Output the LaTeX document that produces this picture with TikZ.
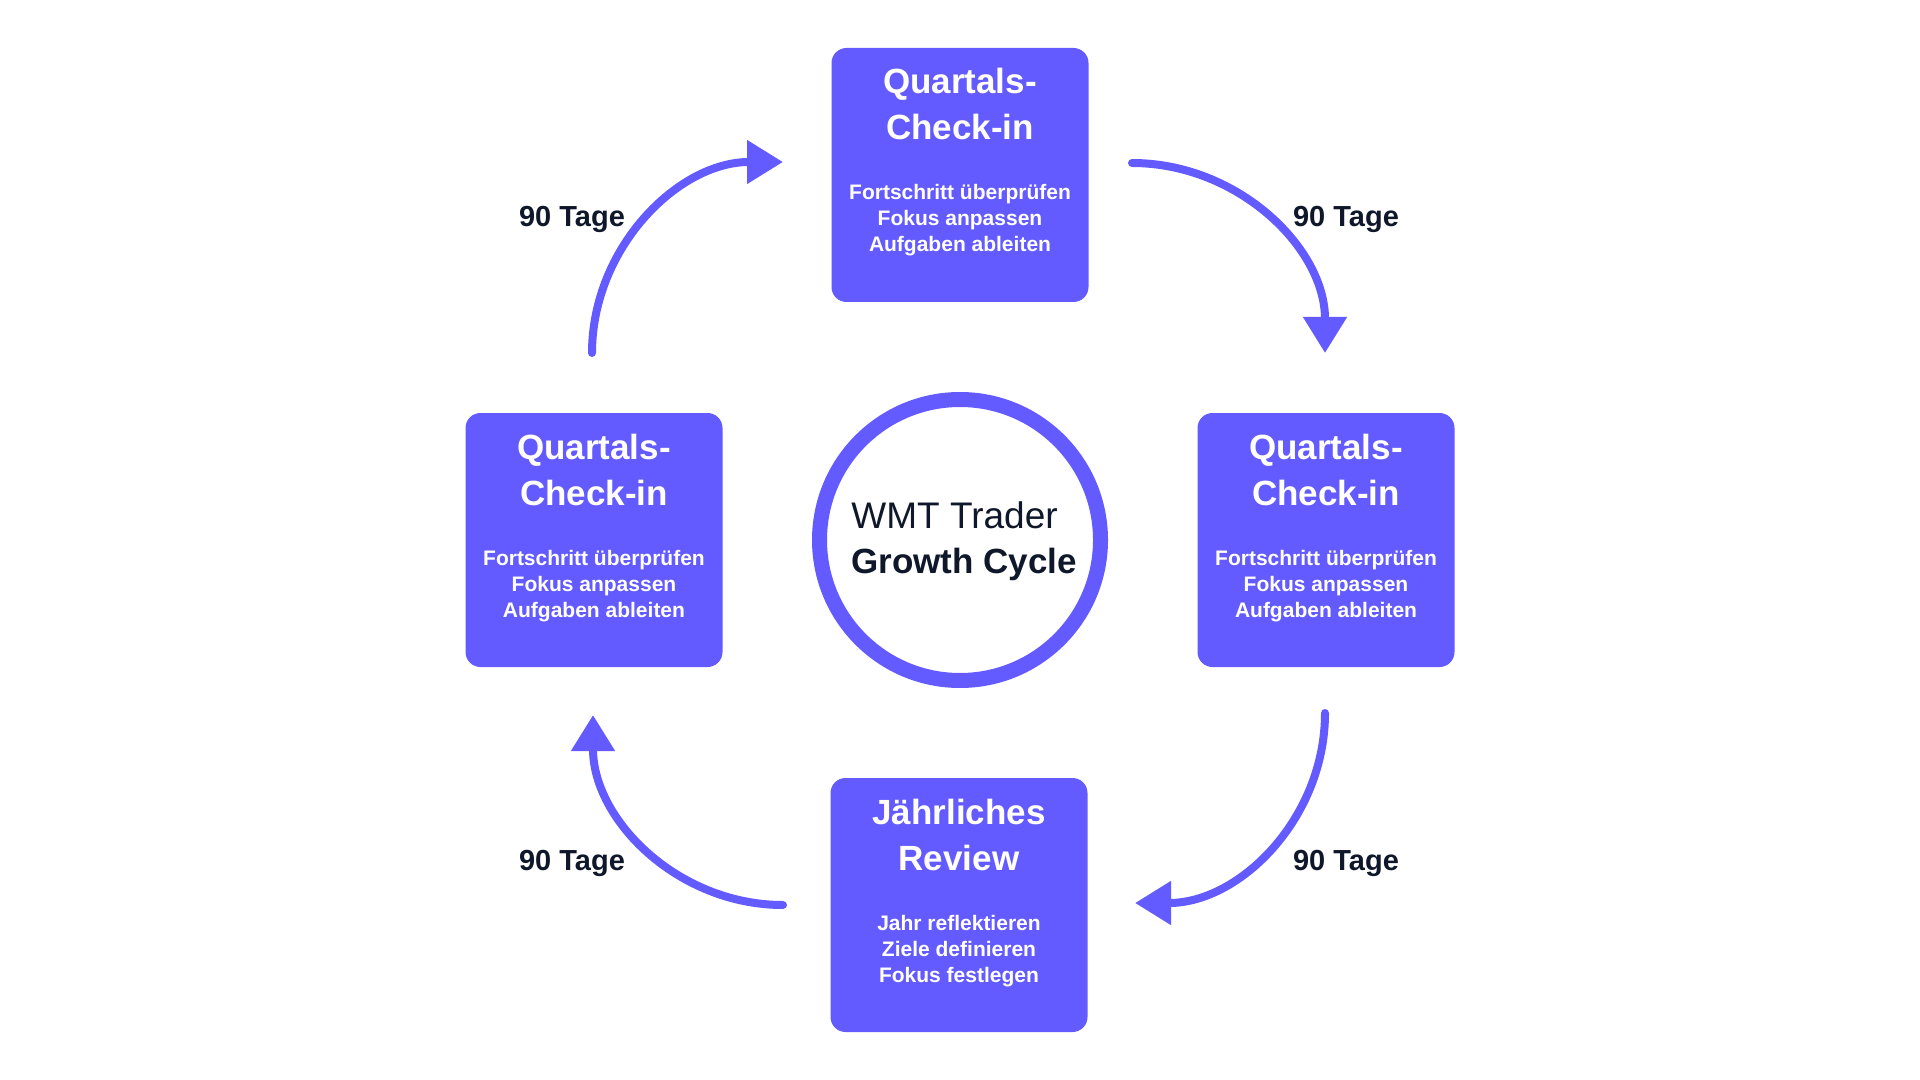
\documentclass[tikz,border=0pt]{standalone}
\usepackage{fontspec}
\setmainfont{Liberation Sans}
\usetikzlibrary{arrows.meta}
\definecolor{blurple}{HTML}{635BFF}
\definecolor{ink}{HTML}{0F172A}
\begin{document}
\begin{tikzpicture}[x=0.5pt,y=-0.5pt,
  card/.style={fill=blurple, rounded corners=7.5pt, minimum width=128.5pt, minimum height=127pt, inner sep=0pt},
  ttl/.style={text=white, font=\fontsize{17.5}{20}\selectfont\bfseries, anchor=base, inner sep=0pt},
  bodytxt/.style={text=white, font=\fontsize{10.5}{12}\selectfont\bfseries, anchor=base, inner sep=0pt},
  cyc/.style={draw=blurple, line width=4pt, line cap=round, -{Triangle[length=18pt,width=21pt]}},
  lbl/.style={text=ink, font=\fontsize{14.5}{17}\selectfont\bfseries, anchor=base, inner sep=0pt},
  hubtxt/.style={text=ink, anchor=base west, inner sep=0pt},
]
\useasboundingbox (0,0) rectangle (1920,1080);
\fill[white] (0,0) rectangle (1920,1080);

% cards
\node[card] (top) at (960,175) {};
\node[card] (right) at (1326,540) {};
\node[card] (bottom) at (959,905) {};
\node[card] (left) at (594,540) {};

\foreach \c in {top,right,left}{
  \node[ttl] (\c t1) at ([yshift=40.5pt]\c.center) {Quartals-};
  \node[ttl] (\c t2) at ([yshift=17.5pt]\c.center) {Check-in};
  \node[bodytxt] (\c b1) at ([yshift=-12.5pt]\c.center) {Fortschritt überprüfen};
  \node[bodytxt] (\c b2) at ([yshift=-25.5pt]\c.center) {Fokus anpassen};
  \node[bodytxt] (\c b3) at ([yshift=-38.5pt]\c.center) {Aufgaben ableiten};
}
\node[ttl] (bottomt1) at ([yshift=40.5pt]bottom.center) {Jährliches};
\node[ttl] (bottomt2) at ([yshift=17.5pt]bottom.center) {Review};
\node[bodytxt] (bottomb1) at ([yshift=-12.5pt]bottom.center) {Jahr reflektieren};
\node[bodytxt] (bottomb2) at ([yshift=-25.5pt]bottom.center) {Ziele definieren};
\node[bodytxt] (bottomb3) at ([yshift=-38.5pt]bottom.center) {Fokus festlegen};

% hub
\node[circle, draw=blurple, line width=7.5pt, fill=white, minimum size=140.5pt, inner sep=0pt] (hub) at (960,540) {};
\node[hubtxt, font=\fontsize{18.5}{21}\selectfont] (hub1) at ([xshift=-54.5pt,yshift=6pt]hub.center) {WMT Trader};
\node[hubtxt, font=\fontsize{17.5}{21}\selectfont\bfseries] (hub2) at ([xshift=-54.5pt,yshift=-16.5pt]hub.center) {Growth Cycle};

% arrows
\coordinate (a1s) at (592,353); \coordinate (a1e) at (783,162);
\coordinate (a2s) at (1132,163); \coordinate (a2e) at (1325,353);
\coordinate (a3s) at (1325,713); \coordinate (a3e) at (1135,903);
\coordinate (a4s) at (783,905); \coordinate (a4e) at (593,715);
\draw[cyc] (a1s) .. controls +(0,-105) and +(-105,0) .. (a1e);
\draw[cyc] (a2s) .. controls +(106,0) and +(0,-105) .. (a2e);
\draw[cyc] (a3s) .. controls +(0,105) and +(105,0) .. (a3e);
\draw[cyc] (a4s) .. controls +(-105,0) and +(0,105) .. (a4e);

% labels
\node[lbl] (l1) at (572,227) {90 Tage};
\node[lbl] (l2) at (1346,227) {90 Tage};
\node[lbl] (l3) at (1346,870) {90 Tage};
\node[lbl] (l4) at (572,870) {90 Tage};
\end{tikzpicture}
\end{document}
